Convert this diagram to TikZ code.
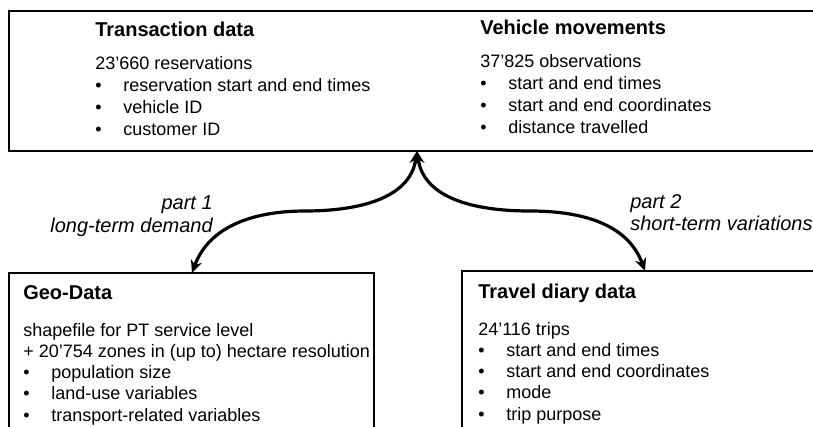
\documentclass[tikz,border=0pt]{standalone}
\usepackage{fontspec}
\setmainfont{Liberation Sans}
\usetikzlibrary{arrows.meta,fit}
\newcommand{\bul}[1]{\makebox[21pt][l]{\textbullet}#1}

\begin{document}
\begin{tikzpicture}[x=0.75pt,y=-0.75pt,
  box/.style={draw,line width=1.1pt,inner sep=0pt},
  txt/.style={anchor=base west,inner sep=0pt,font=\fontsize{13.5}{16}\selectfont},
  head/.style={anchor=base west,inner sep=0pt,font=\fontsize{15}{18}\selectfont\bfseries},
  lab/.style={inner sep=0pt,font=\fontsize{15}{18}\selectfont\itshape},
  link/.style={line width=2.4pt,{Stealth[length=9.5pt,width=8.5pt]}-{Stealth[length=9.5pt,width=8.5pt]}}]
\useasboundingbox (0,0) rectangle (813,426);
% sources
\node[box,line width=1.6pt,fit={(9,11) (830,151)}] (data) {};
\node[box,fit={(9,273) (374,440)}] (geo) {};
\node[box,fit={(462,271) (830,440)}] (diary) {};
% transaction data
\node[head] (transhead) at (95,36.5) {Transaction data};
\node[txt] (trans0) at (95,69) {23'660 reservations};
\foreach \t [count=\i] in {reservation start and end times,vehicle ID,customer ID}
  \node[txt] (trans\i) at (95,69+22*\i) {\bul{\t}};
% vehicle movements
\node[head] (movehead) at (480,34.5) {Vehicle movements};
\node[txt] (move0) at (480,67) {37'825 observations};
\foreach \t [count=\i] in {start and end times,start and end coordinates,distance travelled}
  \node[txt] (move\i) at (480,67+22*\i) {\bul{\t}};
% geo-data
\node[head] (geohead) at (23,299.5) {Geo-Data};
\node[txt] (geo0) at (23,336) {shapefile for PT service level};
\node[txt] (geo1) at (23,357) {+ 20'754 zones in (up to) hectare resolution};
\foreach \t [count=\i from 2] in {population size,land-use variables,transport-related variables}
  \node[txt] (geo\i) at (23,336+21.3*\i) {\bul{\t}};
% travel diary
\node[head] (diaryhead) at (478,298.5) {Travel diary data};
\node[txt] (diary0) at (478,335) {24'116 trips};
\foreach \t [count=\i] in {start and end times,start and end coordinates,mode,trip purpose}
  \node[txt] (diary\i) at (478,335+21.3*\i) {\bul{\t}};
% links
\coordinate (hub) at (417,151);
\coordinate (geoin) at (192,273);
\coordinate (diaryin) at (645,271);
\coordinate (leftmid) at (305,211);
\coordinate (rightmid) at (530,211);
\draw[link] (geoin) to[out=70,in=180] (leftmid) to[out=0,in=-98] (hub);
\draw[link] (diaryin) to[out=110,in=0] (rightmid) to[out=180,in=-82] (hub);
\node[lab,anchor=base east] (part1) at (213,209) {part 1};
\node[lab,anchor=base east] (part1b) at (213,232) {long-term demand};
\node[lab,anchor=base west] (part2) at (630,208) {part 2};
\node[lab,anchor=base west] (part2b) at (630,230) {short-term variations};
\end{tikzpicture}
\end{document}
